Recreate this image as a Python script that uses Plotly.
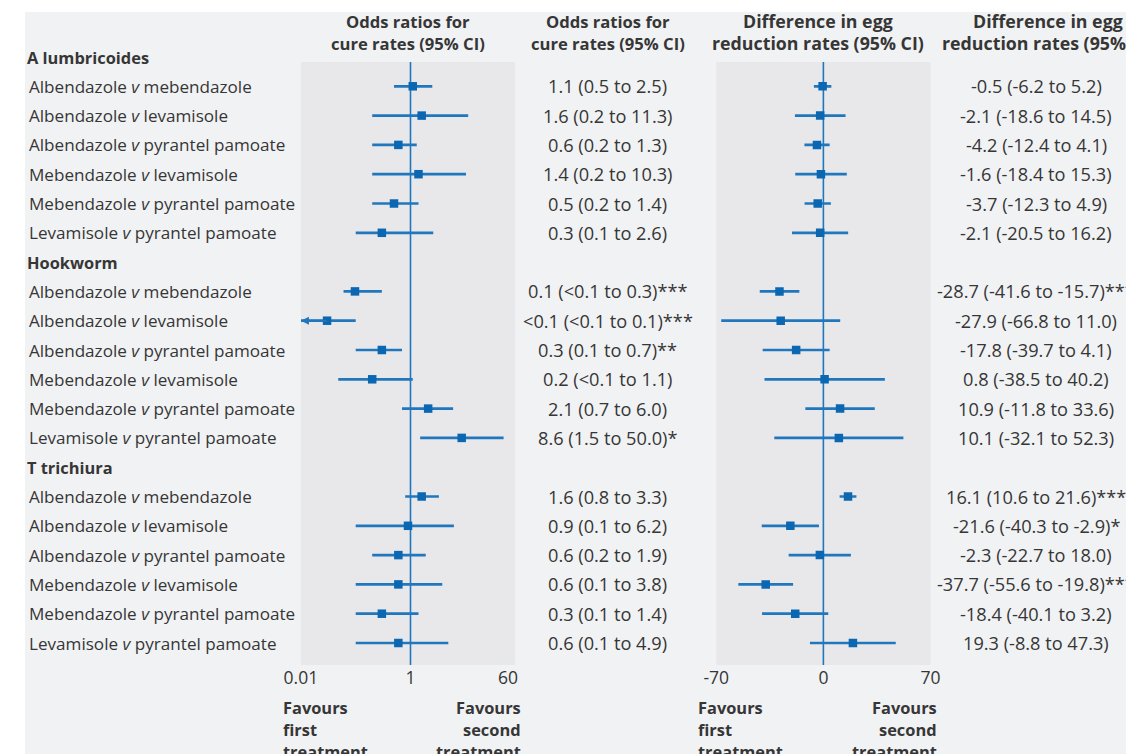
import plotly.graph_objects as go
import math

# ---------------- data ----------------
groups = ["A lumbricoides", "Hookworm", "T trichiura"]
comparisons = [
    "Albendazole <i>v</i> mebendazole",
    "Albendazole <i>v</i> levamisole",
    "Albendazole <i>v</i> pyrantel pamoate",
    "Mebendazole <i>v</i> levamisole",
    "Mebendazole <i>v</i> pyrantel pamoate",
    "Levamisole <i>v</i> pyrantel pamoate",
]

# Odds ratios for cure rates (point, lower, upper)
or_est = [1.1, 1.6, 0.6, 1.4, 0.5, 0.3,
          0.097, 0.03, 0.3, 0.2, 2.1, 8.6,
          1.6, 0.9, 0.6, 0.6, 0.3, 0.6]
or_lo = [0.5, 0.2, 0.2, 0.2, 0.2, 0.1,
         0.06, 0.005, 0.1, 0.048, 0.7, 1.5,
         0.8, 0.1, 0.2, 0.1, 0.1, 0.1]
or_hi = [2.5, 11.3, 1.3, 10.3, 1.4, 2.6,
         0.3, 0.1, 0.7, 1.1, 6.0, 50.0,
         3.3, 6.2, 1.9, 3.8, 1.4, 4.9]
or_text = ["1.1 (0.5 to 2.5)", "1.6 (0.2 to 11.3)", "0.6 (0.2 to 1.3)",
           "1.4 (0.2 to 10.3)", "0.5 (0.2 to 1.4)", "0.3 (0.1 to 2.6)",
           "0.1 (<0.1 to 0.3)***", "<0.1 (<0.1 to 0.1)***", "0.3 (0.1 to 0.7)**",
           "0.2 (<0.1 to 1.1)", "2.1 (0.7 to 6.0)", "8.6 (1.5 to 50.0)*",
           "1.6 (0.8 to 3.3)", "0.9 (0.1 to 6.2)", "0.6 (0.2 to 1.9)",
           "0.6 (0.1 to 3.8)", "0.3 (0.1 to 1.4)", "0.6 (0.1 to 4.9)"]

# Difference in egg reduction rates
eg_est = [-0.5, -2.1, -4.2, -1.6, -3.7, -2.1,
          -28.7, -27.9, -17.8, 0.8, 10.9, 10.1,
          16.1, -21.6, -2.3, -37.7, -18.4, 19.3]
eg_lo = [-6.2, -18.6, -12.4, -18.4, -12.3, -20.5,
         -41.6, -66.8, -39.7, -38.5, -11.8, -32.1,
         10.6, -40.3, -22.7, -55.6, -40.1, -8.8]
eg_hi = [5.2, 14.5, 4.1, 15.3, 4.9, 16.2,
         -15.7, 11.0, 4.1, 40.2, 33.6, 52.3,
         21.6, -2.9, 18.0, -19.8, 3.2, 47.3]
eg_text = ["-0.5 (-6.2 to 5.2)", "-2.1 (-18.6 to 14.5)", "-4.2 (-12.4 to 4.1)",
           "-1.6 (-18.4 to 15.3)", "-3.7 (-12.3 to 4.9)", "-2.1 (-20.5 to 16.2)",
           "-28.7 (-41.6 to -15.7)***", "-27.9 (-66.8 to 11.0)", "-17.8 (-39.7 to 4.1)",
           "0.8 (-38.5 to 40.2)", "10.9 (-11.8 to 33.6)", "10.1 (-32.1 to 52.3)",
           "16.1 (10.6 to 21.6)***", "-21.6 (-40.3 to -2.9)*", "-2.3 (-22.7 to 18.0)",
           "-37.7 (-55.6 to -19.8)***", "-18.4 (-40.1 to 3.2)", "19.3 (-8.8 to 47.3)"]

or_ticks = [0.01, 1, 60]
or_ticktext = ["0.01", "1", "60"]
eg_ticks = [-70, 0, 70]
eg_ticktext = ["-70", "0", "70"]
col_titles = ["Odds ratios for<br>cure rates (95% CI)", "Odds ratios for<br>cure rates (95% CI)",
              "Difference in egg<br>reduction rates (95% CI)", "Difference in egg<br>reduction rates (95% CI)"]

# ---------------- style / layout ----------------
W, H = 1134, 754
SX, OX = 0.98, 22   # horizontal placement calibration
OY = 8              # vertical page offset
FONT = "Open Sans"
TXT = "#363636"
BG = "#f1f2f4"
PANEL = "#e8e8eb"
BLUE = "#0b67b2"
LINE = "#2177bd"
FS_LAB = 17.1
FS_VAL = 18.2
FSB = 16.4
TITLE_FS = [16.6, 16.6, 17.8, 17.8]

ROW0_PX, ROW_STEP = 57, 29.3
PANEL_TOP_PX, PANEL_BOT_PX = 62, 665
OR_RANGE = [-2, 1.909]
EG_RANGE = [-70, 70]


def px_to_row(p):
    return (p - ROW0_PX) / ROW_STEP


def px_x(p):
    return max(0.0, (p - OX) / SX / W)


def px_y(p):
    return 1 - (p - OY) / H


rows = []
header_rows = []
r = 0
for g in groups:
    header_rows.append(r)
    r += 1
    for c in comparisons:
        rows.append(r)
        r += 1
labels = comparisons * len(groups)

fig = go.Figure()

panel_top = px_to_row(PANEL_TOP_PX)
panel_bot = px_to_row(PANEL_BOT_PX)

# reference lines
fig.add_trace(go.Scatter(x=[1, 1], y=[panel_top, panel_bot], mode="lines",
                         line=dict(color=LINE, width=1.6), xaxis="x", yaxis="y",
                         hoverinfo="skip", showlegend=False))
fig.add_trace(go.Scatter(x=[0, 0], y=[panel_top, panel_bot], mode="lines",
                         line=dict(color=LINE, width=1.6), xaxis="x2", yaxis="y",
                         hoverinfo="skip", showlegend=False))

or_min = 10 ** OR_RANGE[0]
xs, ys = [], []
arrows = []
for lo, hi, rr in zip(or_lo, or_hi, rows):
    lo_c = max(lo, or_min)
    if lo < or_min:
        arrows.append((rr, hi))
    xs += [lo_c, hi, None]
    ys += [rr, rr, None]
fig.add_trace(go.Scatter(x=xs, y=ys, mode="lines", line=dict(color=LINE, width=2.7),
                         xaxis="x", yaxis="y", hoverinfo="skip", showlegend=False))
fig.add_trace(go.Scatter(x=or_est, y=rows, mode="markers",
                         marker=dict(symbol="square", size=8.5, color=BLUE),
                         xaxis="x", yaxis="y", showlegend=False))

xs, ys = [], []
for lo, hi, rr in zip(eg_lo, eg_hi, rows):
    xs += [lo, hi, None]
    ys += [rr, rr, None]
fig.add_trace(go.Scatter(x=xs, y=ys, mode="lines", line=dict(color=LINE, width=2.7),
                         xaxis="x2", yaxis="y", hoverinfo="skip", showlegend=False))
fig.add_trace(go.Scatter(x=eg_est, y=rows, mode="markers",
                         marker=dict(symbol="square", size=8.5, color=BLUE),
                         xaxis="x2", yaxis="y", showlegend=False))

annotations = []
for rr, hi in arrows:
    annotations.append(dict(x=OR_RANGE[0], y=rr, xref="x", yref="y",
                            ax=math.log10(hi) - 0.5, ay=rr, axref="x", ayref="y",
                            showarrow=True, arrowhead=2, arrowsize=0.8, arrowwidth=2,
                            arrowcolor=LINE, text=""))

for g, rr in zip(groups, header_rows):
    annotations.append(dict(x=0, y=rr, xref="paper", yref="y", text="<b>%s</b>" % g,
                            showarrow=False, xanchor="left", yanchor="middle",
                            font=dict(family=FONT, size=FSB, color=TXT)))
for lab, rr in zip(labels, rows):
    annotations.append(dict(x=2 / W, y=rr, xref="paper", yref="y", text=lab,
                            showarrow=False, xanchor="left", yanchor="middle",
                            font=dict(family=FONT, size=FS_LAB, color=TXT)))
for t, rr in zip(or_text, rows):
    annotations.append(dict(x=px_x(607), y=rr, xref="paper", yref="y", text=t,
                            showarrow=False, xanchor="center", yanchor="middle",
                            font=dict(family=FONT, size=FS_VAL, color=TXT)))
for t, rr in zip(eg_text, rows):
    annotations.append(dict(x=px_x(1037), y=rr, xref="paper", yref="y", text=t,
                            showarrow=False, xanchor="center", yanchor="middle",
                            font=dict(family=FONT, size=FS_VAL, color=TXT)))

title_cx = [406, 607, 818, 1049]
for t, cx, tfs in zip(col_titles, title_cx, TITLE_FS):
    for li, line in enumerate(t.split("<br>")):
        annotations.append(dict(x=px_x(cx), y=px_y(21 + 22 * li), xref="paper", yref="paper",
                                text="<b>%s</b>" % line, showarrow=False,
                                xanchor="center", yanchor="middle",
                                font=dict(family=FONT, size=tfs, color=TXT)))

for axname in ["x", "x2"]:
    for li, (lt, rt) in enumerate([("Favours", "Favours"), ("first", "second"),
                                   ("treatment", "treatment")]):
        yy = px_y(707 + 22 * li)
        annotations.append(dict(x=0, y=yy, xref=axname + " domain", yref="paper",
                                text="<b>%s</b>" % lt, showarrow=False,
                                xanchor="left", yanchor="middle", xshift=-20 / SX,
                                font=dict(family=FONT, size=FSB, color=TXT)))
        annotations.append(dict(x=1, y=yy, xref=axname + " domain", yref="paper",
                                text="<b>%s</b>" % rt, showarrow=False,
                                xanchor="right", yanchor="middle", xshift=8 / SX,
                                font=dict(family=FONT, size=FSB, color=TXT)))

shapes = [
    dict(type="rect", xref="paper", yref="paper", x0=0, x1=1, y0=0, y1=px_y(12),
         fillcolor=BG, line=dict(width=0), layer="below"),
    dict(type="rect", xref="x domain", yref="y", x0=0, x1=1, y0=panel_top, y1=panel_bot,
         fillcolor=PANEL, line=dict(width=0), layer="below"),
    dict(type="rect", xref="x2 domain", yref="y", x0=0, x1=1, y0=panel_top, y1=panel_bot,
         fillcolor=PANEL, line=dict(width=0), layer="below"),
]

y_dom_bottom = px_y(PANEL_BOT_PX)
fig.update_layout(
    width=W, height=H, margin=dict(l=0, r=0, t=0, b=0),
    paper_bgcolor="white", plot_bgcolor="rgba(0,0,0,0)",
    font=dict(family=FONT, color=TXT),
    showlegend=False,
    xaxis=dict(type="log", range=OR_RANGE, domain=[px_x(299), px_x(514)],
               tickvals=or_ticks, ticktext=or_ticktext, showgrid=False, zeroline=False,
               showline=False, ticks="", anchor="y",
               tickfont=dict(family=FONT, size=17.5, color=TXT)),
    xaxis2=dict(range=EG_RANGE, domain=[px_x(716), px_x(931)],
                tickvals=eg_ticks, ticktext=eg_ticktext, showgrid=False, zeroline=False,
                showline=False, ticks="", anchor="y",
                tickfont=dict(family=FONT, size=17.5, color=TXT)),
    yaxis=dict(range=[panel_bot, px_to_row(OY)], domain=[y_dom_bottom, 1], visible=False),
    annotations=annotations,
    shapes=shapes,
)

fig.write_html("out.html")
